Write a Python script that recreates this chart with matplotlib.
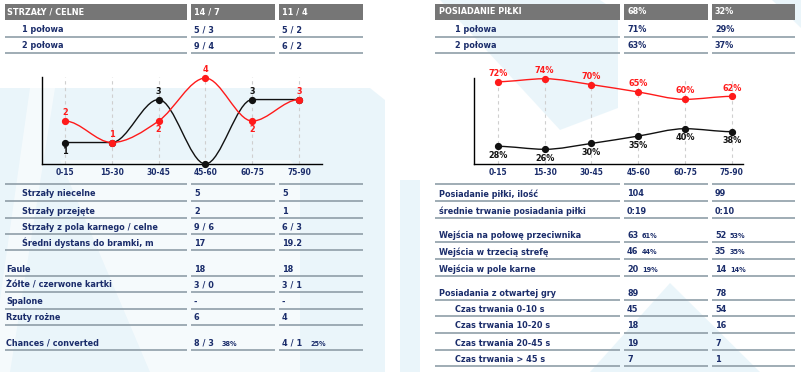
import numpy as np
import matplotlib
matplotlib.use("Agg")
import matplotlib.pyplot as plt
from matplotlib.path import Path
from matplotlib.patches import PathPatch, Polygon, Rectangle

plt.rcParams['font.family'] = ['DejaVu Sans']
plt.rcParams['font.stretch'] = 'condensed'
plt.rcParams['font.weight'] = 'bold'

NAVY = '#1b2d6b'
GREY_HEAD = '#767676'
RULE = '#8f9ea8'
RED = '#ff1a1a'
BLACK = '#111111'
BLUE_BG = '#e2f2f9'

# ---- data ----
periods = ["0-15", "15-30", "30-45", "45-60", "60-75", "75-90"]

shots_red = [2, 1, 2, 4, 2, 3]
shots_black = [1, 1, 3, 0, 3, 3]

poss_red = [72, 74, 70, 65, 60, 62]
poss_black = [28, 26, 30, 35, 40, 38]

left_head = ["STRZAŁY / CELNE", "14 / 7", "11 / 4"]
left_half_labels = ["1 połowa", "2 połowa"]
left_half_a = ["5 / 3", "9 / 4"]
left_half_b = ["5 / 2", "6 / 2"]

right_head = ["POSIADANIE PIŁKI", "68%", "32%"]
right_half_labels = ["1 połowa", "2 połowa"]
right_half_a = ["71%", "63%"]
right_half_b = ["29%", "37%"]

left_labels = ["Strzały niecelne", "Strzały przejęte", "Strzały z pola karnego / celne",
               "Średni dystans do bramki, m", "Faule", "Żółte / czerwone kartki",
               "Spalone", "Rzuty rożne", "Chances / converted"]
left_a = ["5", "2", "9 / 6", "17", "18", "3 / 0", "-", "6", "8 / 3"]
left_b = ["5", "1", "6 / 3", "19.2", "18", "3 / 1", "-", "4", "4 / 1"]
left_pct_a = ["", "", "", "", "", "", "", "", "38%"]
left_pct_b = ["", "", "", "", "", "", "", "", "25%"]

right_labels = ["Posiadanie piłki, ilość", "średnie trwanie posiadania piłki",
                "Wejścia na połowę przeciwnika", "Wejścia w trzecią strefę",
                "Wejścia w pole karne", "Posiadania z otwartej gry",
                "Czas trwania 0-10 s", "Czas trwania 10-20 s",
                "Czas trwania 20-45 s", "Czas trwania > 45 s"]
right_a = ["104", "0:19", "63", "46", "20", "89", "45", "18", "19", "7"]
right_b = ["99", "0:10", "52", "35", "14", "78", "54", "16", "7", "1"]
right_pct_a = ["", "", "61%", "44%", "19%", "", "", "", "", ""]
right_pct_b = ["", "", "53%", "35%", "14%", "", "", "", "", ""]

# ---- layout (pixels) ----
left_rows_y = [194, 211, 227, 243, 269, 285, 302, 318, 343]
left_indent = [1, 1, 1, 1, 0, 0, 0, 0, 0]
right_rows_y = [194, 211, 235, 252, 269, 293, 309, 326, 343, 359]
right_indent = [0, 0, 0, 0, 0, 0, 1, 1, 1, 1]

left_cols = [(5, 187), (191, 275), (279, 363)]
right_cols = [(435, 620), (624, 708), (712, 795)]

fig = plt.figure(figsize=(8.01, 3.72), dpi=100)
bg = fig.add_axes([0, 0, 1, 1])
bg.set_xlim(0, 801)
bg.set_ylim(372, 0)
bg.axis('off')

# watermark shapes
shapes = [
    [(0, 88), (370, 88), (385, 100), (385, 372), (0, 372)],
    [(440, 0), (600, 0), (618, 12), (618, 108), (560, 130)],
    [(400, 180), (420, 180), (420, 372), (400, 372)],
    [(670, 283), (760, 372), (590, 372)],
    [(772, 0), (801, 0), (801, 28)],
]
for s in shapes:
    bg.add_patch(Polygon(s, closed=True, color=BLUE_BG, alpha=0.7, lw=0, zorder=0))
white_shapes = [
    [(30, 88), (55, 88), (10, 372), (0, 372), (0, 300)],
    [(60, 160), (290, 160), (300, 170), (300, 372), (150, 372)],
]
for s in white_shapes:
    bg.add_patch(Polygon(s, closed=True, color='white', alpha=0.55, lw=0, zorder=0))

FS = 6.5


def header(cols, texts, label_x):
    for (x0, x1), t, tx in zip(cols, texts, [label_x, cols[1][0] + 3, cols[2][0] + 3]):
        bg.add_patch(Rectangle((x0, 3.5), x1 - x0, 16.5, color=GREY_HEAD, lw=0, zorder=1))
        bg.text(tx, 12, t, color='white', fontsize=FS, va='center', ha='left', zorder=2)


def rule(cols, y):
    for x0, x1 in cols:
        bg.plot([x0, x1], [y, y], color=RULE, lw=1.2, zorder=1, solid_capstyle='butt')


def row(cols, y, label, a, b, lx, pa="", pb="", pct_dx=28):
    bg.text(lx, y, label, color=NAVY, fontsize=FS, va='center', ha='left', zorder=2)
    bg.text(cols[1][0] + 3, y, a, color=NAVY, fontsize=FS, va='center', ha='left', zorder=2)
    bg.text(cols[2][0] + 3, y, b, color=NAVY, fontsize=FS, va='center', ha='left', zorder=2)
    if pa:
        bg.text(cols[1][0] + 3 + pct_dx, y + 0.5, pa, color=NAVY, fontsize=5.2,
                va='center', ha='left', zorder=2)
    if pb:
        bg.text(cols[2][0] + 3 + pct_dx, y + 0.5, pb, color=NAVY, fontsize=5.2,
                va='center', ha='left', zorder=2)
    rule(cols, y + 7)


# left table
header(left_cols, left_head, 7)
for lab, a, b, y in zip(left_half_labels, left_half_a, left_half_b, [30, 46]):
    row(left_cols, y, lab, a, b, 22)
rule(left_cols, 183.5)
for i, lab in enumerate(left_labels):
    lx = 22 if left_indent[i] else 6
    row(left_cols, left_rows_y[i], lab, left_a[i], left_b[i], lx,
        left_pct_a[i], left_pct_b[i], pct_dx=28)

# right table
header(right_cols, right_head, 439)
for lab, a, b, y in zip(right_half_labels, right_half_a, right_half_b, [30, 46]):
    row(right_cols, y, lab, a, b, 455)
rule(right_cols, 183.5)
for i, lab in enumerate(right_labels):
    lx = 455 if right_indent[i] else 439
    row(right_cols, right_rows_y[i], lab, right_a[i], right_b[i], lx,
        right_pct_a[i], right_pct_b[i], pct_dx=15)


def monotone_path(xs, ys):
    xs = np.asarray(xs, float)
    ys = np.asarray(ys, float)
    n = len(xs)
    h = np.diff(xs)
    s = np.diff(ys) / h
    t = np.zeros(n)
    for i in range(1, n - 1):
        p = (s[i - 1] * h[i] + s[i] * h[i - 1]) / (h[i - 1] + h[i])
        t[i] = (np.sign(s[i - 1]) + np.sign(s[i])) * min(abs(s[i - 1]), abs(s[i]), 0.5 * abs(p))
    verts = [(xs[0], ys[0])]
    codes = [Path.MOVETO]
    for i in range(n - 1):
        d = h[i] / 3
        verts += [(xs[i] + d, ys[i] + t[i] * d), (xs[i + 1] - d, ys[i + 1] - t[i + 1] * d),
                  (xs[i + 1], ys[i + 1])]
        codes += [Path.CURVE4] * 3
    return Path(verts, codes)


def line_chart(rect, ylim, xlim, red, black, fmt):
    ax = fig.add_axes(rect)
    ax.patch.set_alpha(0)
    x = np.arange(len(periods))
    ax.set_xlim(*xlim)
    ax.set_ylim(*ylim)
    for xi in x:
        ax.axvline(xi, color='#cfcfcf', lw=0.8, ls=(0, (3, 3)), zorder=1)
    for vals, col in [(black, BLACK), (red, RED)]:
        ax.add_patch(PathPatch(monotone_path(x, vals), fill=False, edgecolor=col,
                               lw=1.0, zorder=3, clip_on=False))
        ax.plot(x, vals, 'o', color=col, ms=4.2, zorder=4, clip_on=False)
    for i in range(len(x)):
        r, b = red[i], black[i]
        ax.annotate(fmt(r), (x[i], r), xytext=(0, 6 if r >= b else -6),
                    textcoords='offset points', ha='center', va='center',
                    color=RED, fontsize=FS, zorder=5, annotation_clip=False)
        if b != r and b != 0:
            ax.annotate(fmt(b), (x[i], b), xytext=(0, 6 if b > r else -6.5),
                        textcoords='offset points', ha='center', va='center',
                        color=BLACK, fontsize=FS, zorder=5, annotation_clip=False)
    ax.set_xticks(x)
    ax.set_xticklabels(periods, color=NAVY, fontsize=6)
    ax.set_yticks([])
    ax.tick_params(axis='x', length=0, pad=3)
    for side in ['top', 'right']:
        ax.spines[side].set_visible(False)
    for side in ['left', 'bottom']:
        ax.spines[side].set_color('black')
        ax.spines[side].set_linewidth(1.0)
    return ax


def px_rect(x0, x1, ytop, ybot):
    return [x0 / 801, 1 - ybot / 372, (x1 - x0) / 801, (ybot - ytop) / 372]


line_chart(px_rect(42, 322, 77, 164), (0, 4.05), (-0.49, 5.49),
           shots_red, shots_black, lambda v: f"{v}")
line_chart(px_rect(474, 743, 78, 164), (16, 74.5), (-0.51, 5.24),
           poss_red, poss_black, lambda v: f"{v}%")

fig.savefig("out.png", dpi=100)
